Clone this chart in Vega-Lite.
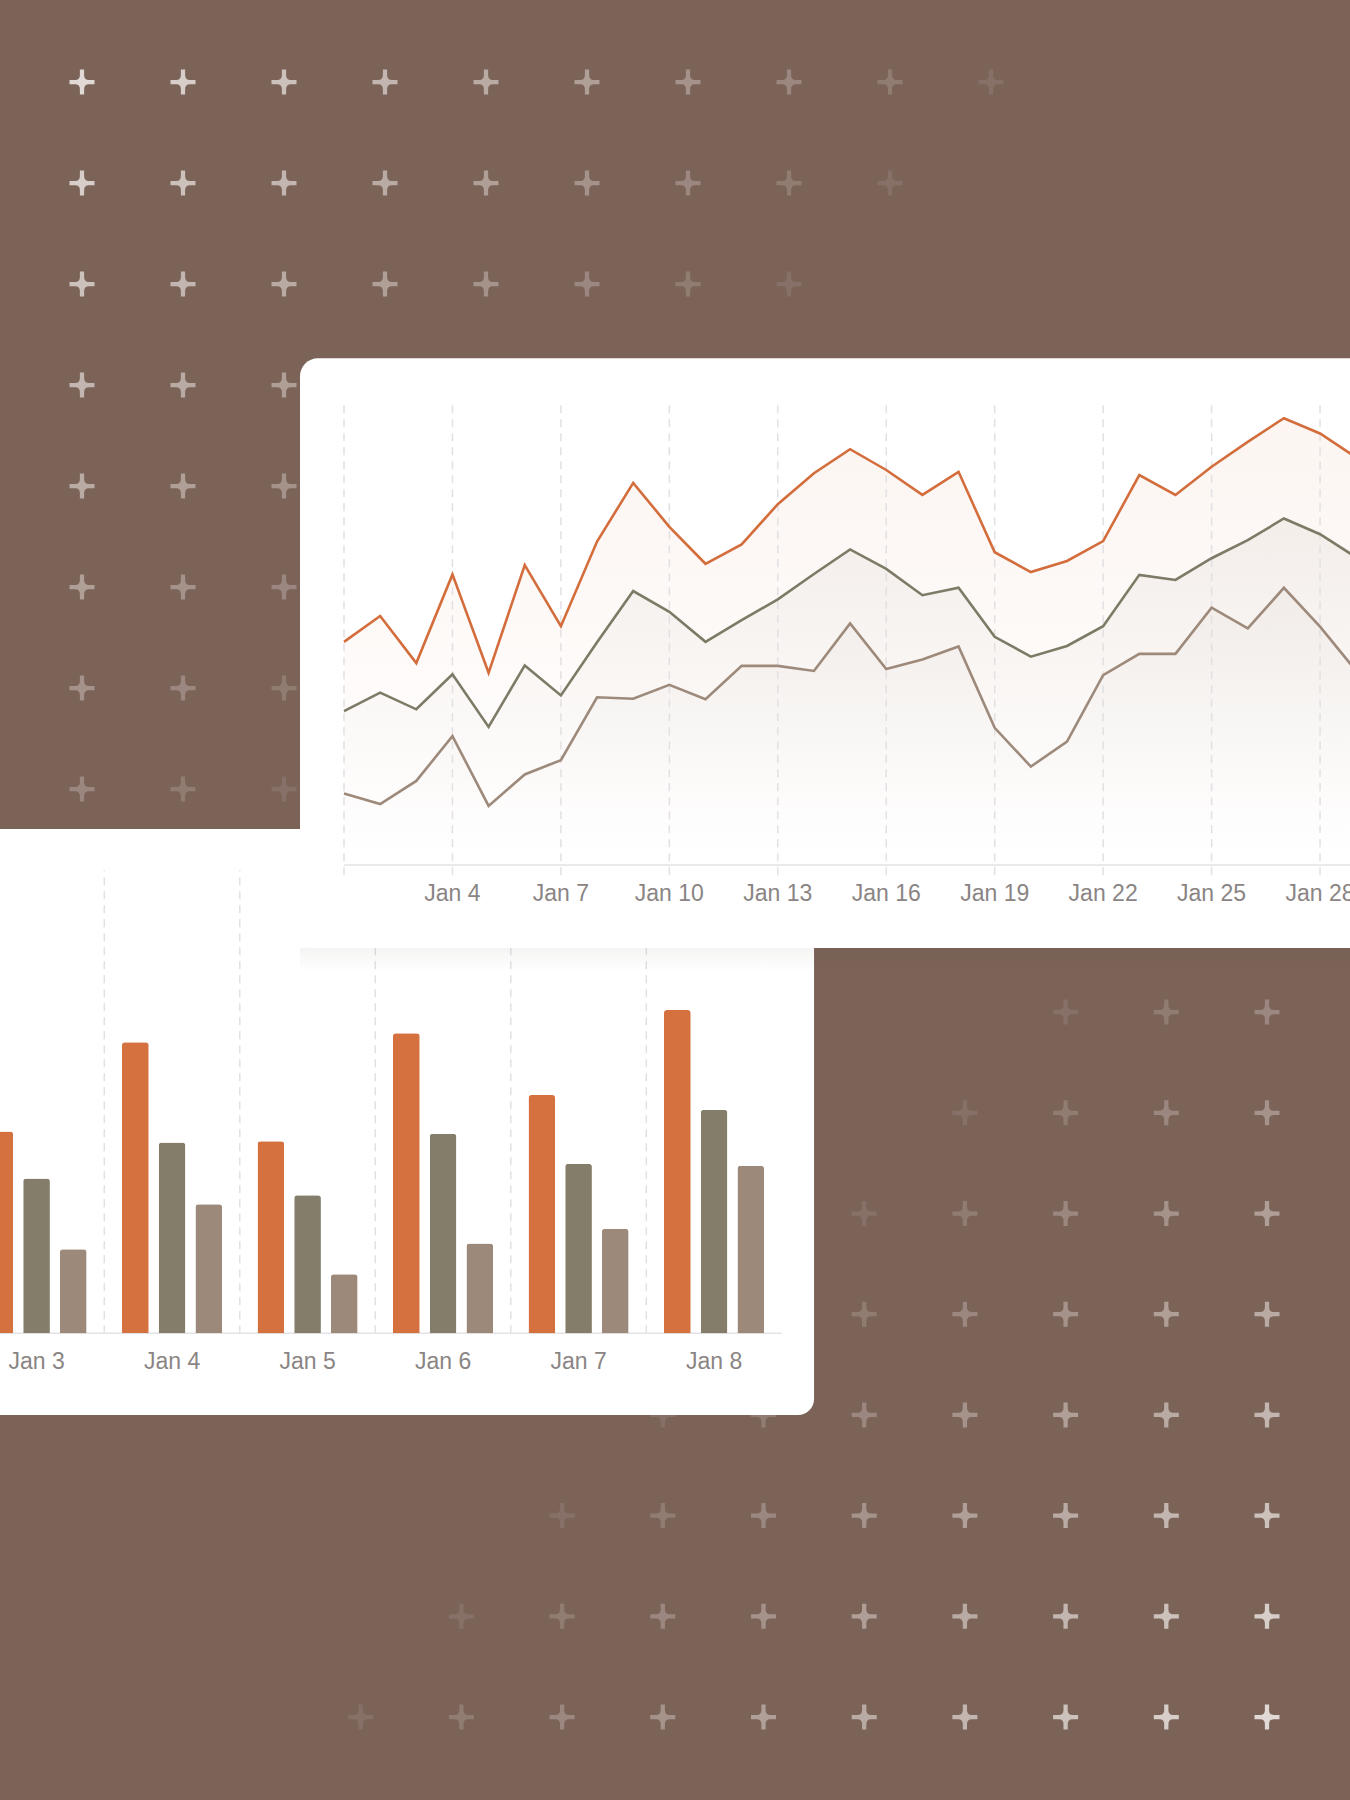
{
  "$schema": "https://vega.github.io/schema/vega-lite/v6.json",
  "width": 1350,
  "height": 1800,
  "autosize": {"type": "none"},
  "padding": 0,
  "background": "#7B6358",
  "config": {"view": {"stroke": null}, "axis": {"disable": true}, "legend": {"disable": true}},
  "datasets": {
    "plusTopLeft": [
      {"col":0,"row":0,"level":0},{"col":1,"row":0,"level":1},{"col":2,"row":0,"level":2},{"col":3,"row":0,"level":3},{"col":4,"row":0,"level":4},{"col":5,"row":0,"level":5},{"col":6,"row":0,"level":6},{"col":7,"row":0,"level":7},{"col":8,"row":0,"level":8},{"col":9,"row":0,"level":9},
      {"col":0,"row":1,"level":1},{"col":1,"row":1,"level":2},{"col":2,"row":1,"level":3},{"col":3,"row":1,"level":4},{"col":4,"row":1,"level":5},{"col":5,"row":1,"level":6},{"col":6,"row":1,"level":7},{"col":7,"row":1,"level":8},{"col":8,"row":1,"level":9},
      {"col":0,"row":2,"level":2},{"col":1,"row":2,"level":3},{"col":2,"row":2,"level":4},{"col":3,"row":2,"level":5},{"col":4,"row":2,"level":6},{"col":5,"row":2,"level":7},{"col":6,"row":2,"level":8},{"col":7,"row":2,"level":9},
      {"col":0,"row":3,"level":3},{"col":1,"row":3,"level":4},{"col":2,"row":3,"level":5},{"col":3,"row":3,"level":6},{"col":4,"row":3,"level":7},{"col":5,"row":3,"level":8},{"col":6,"row":3,"level":9},
      {"col":0,"row":4,"level":4},{"col":1,"row":4,"level":5},{"col":2,"row":4,"level":6},{"col":3,"row":4,"level":7},{"col":4,"row":4,"level":8},{"col":5,"row":4,"level":9},
      {"col":0,"row":5,"level":5},{"col":1,"row":5,"level":6},{"col":2,"row":5,"level":7},{"col":3,"row":5,"level":8},{"col":4,"row":5,"level":9},
      {"col":0,"row":6,"level":6},{"col":1,"row":6,"level":7},{"col":2,"row":6,"level":8},{"col":3,"row":6,"level":9},
      {"col":0,"row":7,"level":7},{"col":1,"row":7,"level":8},{"col":2,"row":7,"level":9},
      {"col":0,"row":8,"level":8},{"col":1,"row":8,"level":9},
      {"col":0,"row":9,"level":9}
    ],
    "plusBottomRight": [
      {"col":0,"row":0,"level":0},{"col":1,"row":0,"level":1},{"col":2,"row":0,"level":2},{"col":3,"row":0,"level":3},{"col":4,"row":0,"level":4},{"col":5,"row":0,"level":5},{"col":6,"row":0,"level":6},{"col":7,"row":0,"level":7},{"col":8,"row":0,"level":8},{"col":9,"row":0,"level":9},
      {"col":0,"row":1,"level":1},{"col":1,"row":1,"level":2},{"col":2,"row":1,"level":3},{"col":3,"row":1,"level":4},{"col":4,"row":1,"level":5},{"col":5,"row":1,"level":6},{"col":6,"row":1,"level":7},{"col":7,"row":1,"level":8},{"col":8,"row":1,"level":9},
      {"col":0,"row":2,"level":2},{"col":1,"row":2,"level":3},{"col":2,"row":2,"level":4},{"col":3,"row":2,"level":5},{"col":4,"row":2,"level":6},{"col":5,"row":2,"level":7},{"col":6,"row":2,"level":8},{"col":7,"row":2,"level":9},
      {"col":0,"row":3,"level":3},{"col":1,"row":3,"level":4},{"col":2,"row":3,"level":5},{"col":3,"row":3,"level":6},{"col":4,"row":3,"level":7},{"col":5,"row":3,"level":8},{"col":6,"row":3,"level":9},
      {"col":0,"row":4,"level":4},{"col":1,"row":4,"level":5},{"col":2,"row":4,"level":6},{"col":3,"row":4,"level":7},{"col":4,"row":4,"level":8},{"col":5,"row":4,"level":9},
      {"col":0,"row":5,"level":5},{"col":1,"row":5,"level":6},{"col":2,"row":5,"level":7},{"col":3,"row":5,"level":8},{"col":4,"row":5,"level":9},
      {"col":0,"row":6,"level":6},{"col":1,"row":6,"level":7},{"col":2,"row":6,"level":8},{"col":3,"row":6,"level":9},
      {"col":0,"row":7,"level":7},{"col":1,"row":7,"level":8},{"col":2,"row":7,"level":9},
      {"col":0,"row":8,"level":8},{"col":1,"row":8,"level":9},
      {"col":0,"row":9,"level":9}
    ],
    "bars": [
      {"day":"Jan 1","series":"A","value":70},{"day":"Jan 1","series":"B","value":50},{"day":"Jan 1","series":"C","value":35},
      {"day":"Jan 2","series":"A","value":82},{"day":"Jan 2","series":"B","value":58},{"day":"Jan 2","series":"C","value":30},
      {"day":"Jan 3","series":"A","value":62.4},{"day":"Jan 3","series":"B","value":47.9},{"day":"Jan 3","series":"C","value":26.0},
      {"day":"Jan 4","series":"A","value":90.0},{"day":"Jan 4","series":"B","value":59.0},{"day":"Jan 4","series":"C","value":39.9},
      {"day":"Jan 5","series":"A","value":59.4},{"day":"Jan 5","series":"B","value":42.7},{"day":"Jan 5","series":"C","value":18.3},
      {"day":"Jan 6","series":"A","value":92.8},{"day":"Jan 6","series":"B","value":61.7},{"day":"Jan 6","series":"C","value":27.8},
      {"day":"Jan 7","series":"A","value":73.7},{"day":"Jan 7","series":"B","value":52.4},{"day":"Jan 7","series":"C","value":32.3},
      {"day":"Jan 8","series":"A","value":100.0},{"day":"Jan 8","series":"B","value":69.1},{"day":"Jan 8","series":"C","value":51.8}
    ],
    "lines": [
      {"date":"2024-01-01","series":"A","value":48.3},{"date":"2024-01-02","series":"A","value":53.9},{"date":"2024-01-03","series":"A","value":43.7},{"date":"2024-01-04","series":"A","value":62.9},{"date":"2024-01-05","series":"A","value":41.6},{"date":"2024-01-06","series":"A","value":64.9},{"date":"2024-01-07","series":"A","value":51.7},{"date":"2024-01-08","series":"A","value":70.0},{"date":"2024-01-09","series":"A","value":82.7},{"date":"2024-01-10","series":"A","value":73.2},
      {"date":"2024-01-11","series":"A","value":65.2},{"date":"2024-01-12","series":"A","value":69.4},{"date":"2024-01-13","series":"A","value":78.1},{"date":"2024-01-14","series":"A","value":84.8},{"date":"2024-01-15","series":"A","value":90.0},{"date":"2024-01-16","series":"A","value":85.5},{"date":"2024-01-17","series":"A","value":80.1},{"date":"2024-01-18","series":"A","value":85.1},{"date":"2024-01-19","series":"A","value":67.7},{"date":"2024-01-20","series":"A","value":63.4},
      {"date":"2024-01-21","series":"A","value":65.8},{"date":"2024-01-22","series":"A","value":70.1},{"date":"2024-01-23","series":"A","value":84.4},{"date":"2024-01-24","series":"A","value":80.1},{"date":"2024-01-25","series":"A","value":86.2},{"date":"2024-01-26","series":"A","value":91.6},{"date":"2024-01-27","series":"A","value":96.7},{"date":"2024-01-28","series":"A","value":93.4},{"date":"2024-01-29","series":"A","value":88.2},{"date":"2024-01-30","series":"A","value":84.0},
      {"date":"2024-01-01","series":"B","value":33.3},{"date":"2024-01-02","series":"B","value":37.3},{"date":"2024-01-03","series":"B","value":33.7},{"date":"2024-01-04","series":"B","value":41.3},{"date":"2024-01-05","series":"B","value":29.9},{"date":"2024-01-06","series":"B","value":43.2},{"date":"2024-01-07","series":"B","value":36.7},{"date":"2024-01-08","series":"B","value":48.2},{"date":"2024-01-09","series":"B","value":59.3},{"date":"2024-01-10","series":"B","value":54.8},
      {"date":"2024-01-11","series":"B","value":48.3},{"date":"2024-01-12","series":"B","value":53.0},{"date":"2024-01-13","series":"B","value":57.5},{"date":"2024-01-14","series":"B","value":63.0},{"date":"2024-01-15","series":"B","value":68.3},{"date":"2024-01-16","series":"B","value":64.1},{"date":"2024-01-17","series":"B","value":58.4},{"date":"2024-01-18","series":"B","value":60.0},{"date":"2024-01-19","series":"B","value":49.4},{"date":"2024-01-20","series":"B","value":45.1},
      {"date":"2024-01-21","series":"B","value":47.4},{"date":"2024-01-22","series":"B","value":51.7},{"date":"2024-01-23","series":"B","value":62.8},{"date":"2024-01-24","series":"B","value":61.7},{"date":"2024-01-25","series":"B","value":66.4},{"date":"2024-01-26","series":"B","value":70.3},{"date":"2024-01-27","series":"B","value":75.0},{"date":"2024-01-28","series":"B","value":71.6},{"date":"2024-01-29","series":"B","value":66.6},{"date":"2024-01-30","series":"B","value":63.0},
      {"date":"2024-01-01","series":"C","value":15.5},{"date":"2024-01-02","series":"C","value":13.2},{"date":"2024-01-03","series":"C","value":18.2},{"date":"2024-01-04","series":"C","value":27.9},{"date":"2024-01-05","series":"C","value":12.8},{"date":"2024-01-06","series":"C","value":19.6},{"date":"2024-01-07","series":"C","value":22.7},{"date":"2024-01-08","series":"C","value":36.3},{"date":"2024-01-09","series":"C","value":36.0},{"date":"2024-01-10","series":"C","value":39.0},
      {"date":"2024-01-11","series":"C","value":35.9},{"date":"2024-01-12","series":"C","value":43.1},{"date":"2024-01-13","series":"C","value":43.1},{"date":"2024-01-14","series":"C","value":42.0},{"date":"2024-01-15","series":"C","value":52.3},{"date":"2024-01-16","series":"C","value":42.4},{"date":"2024-01-17","series":"C","value":44.5},{"date":"2024-01-18","series":"C","value":47.3},{"date":"2024-01-19","series":"C","value":29.7},{"date":"2024-01-20","series":"C","value":21.3},
      {"date":"2024-01-21","series":"C","value":26.7},{"date":"2024-01-22","series":"C","value":41.1},{"date":"2024-01-23","series":"C","value":45.7},{"date":"2024-01-24","series":"C","value":45.7},{"date":"2024-01-25","series":"C","value":55.7},{"date":"2024-01-26","series":"C","value":51.2},{"date":"2024-01-27","series":"C","value":60.0},{"date":"2024-01-28","series":"C","value":51.6},{"date":"2024-01-29","series":"C","value":42.0},{"date":"2024-01-30","series":"C","value":38.0}
    ]
  },
  "layer": [
    {
      "data": {"name": "plusTopLeft"},
      "mark": {"type": "point", "shape": "M-1,-0.17L-0.55,-0.17Q-0.17,-0.17,-0.17,-0.55L-0.17,-1L0.17,-1L0.17,-0.55Q0.17,-0.17,0.55,-0.17L1,-0.17L1,0.17L0.55,0.17Q0.17,0.17,0.17,0.55L0.17,1L-0.17,1L-0.17,0.55Q-0.17,0.17,-0.55,0.17L-1,0.17Z", "filled": true, "size": 625, "color": "#F3EDEB", "strokeWidth": 0},
      "encoding": {
        "x": {"field": "col", "type": "quantitative", "axis": null, "scale": {"domain": [0, 12], "range": [82, 1294], "nice": false, "zero": false}},
        "y": {"field": "row", "type": "quantitative", "axis": null, "scale": {"domain": [0, 12], "range": [82, 1294], "nice": false, "zero": false}},
        "opacity": {"field": "level", "type": "quantitative", "legend": null, "scale": {"domain": [0, 9], "range": [0.85, 0.1]}}
      }
    },
    {
      "data": {"name": "plusBottomRight"},
      "mark": {"type": "point", "shape": "M-1,-0.17L-0.55,-0.17Q-0.17,-0.17,-0.17,-0.55L-0.17,-1L0.17,-1L0.17,-0.55Q0.17,-0.17,0.55,-0.17L1,-0.17L1,0.17L0.55,0.17Q0.17,0.17,0.17,0.55L0.17,1L-0.17,1L-0.17,0.55Q-0.17,0.17,-0.55,0.17L-1,0.17Z", "filled": true, "size": 625, "color": "#F3EDEB", "strokeWidth": 0},
      "encoding": {
        "x": {"field": "col", "type": "quantitative", "axis": null, "scale": {"domain": [0, 9], "range": [1267, 360.7], "nice": false, "zero": false}},
        "y": {"field": "row", "type": "quantitative", "axis": null, "scale": {"domain": [0, 9], "range": [1717, 810.7], "nice": false, "zero": false}},
        "opacity": {"field": "level", "type": "quantitative", "legend": null, "scale": {"domain": [0, 9], "range": [0.85, 0.1]}}
      }
    },
    {
      "resolve": {"scale": {"x": "independent"}},
      "layer": [
        {
          "data": {"values": [{}]},
          "mark": {"type": "rect", "fill": "#FFFFFF", "cornerRadius": 16},
          "encoding": {
            "x": {"datum": -1, "type": "quantitative", "axis": null, "scale": {"domain": [0, 8], "range": [-302.2, 781.8], "nice": false, "zero": false}},
            "x2": {"datum": 8.238},
            "y": {"datum": 156, "type": "quantitative", "axis": null, "scale": {"domain": [0, 100], "range": [1333.3, 1010], "nice": false, "zero": false}},
            "y2": {"datum": -25.3}
          }
        },
        {
          "data": {"name": "bars"},
          "transform": [{"aggregate": [], "groupby": ["day"]}],
          "mark": {"type": "rule", "color": "#E3E0E3", "strokeWidth": 1.5, "strokeDash": [8, 6]},
          "encoding": {
            "x": {"field": "day", "type": "nominal", "bandPosition": -0.1154, "axis": null, "scale": {"domain": ["Jan 1","Jan 2","Jan 3","Jan 4","Jan 5","Jan 6","Jan 7","Jan 8"], "range": [-302.2, 781.8], "paddingInner": 0.1875, "paddingOuter": 0.09375}},
            "y": {"datum": 0, "type": "quantitative", "axis": null, "scale": {"domain": [0, 100], "range": [1333.3, 1010], "nice": false, "zero": false}},
            "y2": {"datum": 143.3}
          }
        },
        {
          "data": {"values": [{}]},
          "mark": {"type": "rule", "color": "#E4E2E5", "strokeWidth": 1.5},
          "encoding": {
            "x": {"datum": -1, "type": "quantitative", "axis": null, "scale": {"domain": [0, 8], "range": [-302.2, 781.8], "nice": false, "zero": false}},
            "x2": {"datum": 8},
            "y": {"datum": 0, "type": "quantitative", "axis": null, "scale": {"domain": [0, 100], "range": [1333.3, 1010], "nice": false, "zero": false}}
          }
        },
        {
          "layer": [
            {
              "data": {"name": "bars"},
              "mark": {"type": "bar", "cornerRadiusTopLeft": 3, "cornerRadiusTopRight": 3},
              "encoding": {
                "x": {"field": "day", "type": "nominal", "axis": null, "scale": {"domain": ["Jan 1","Jan 2","Jan 3","Jan 4","Jan 5","Jan 6","Jan 7","Jan 8"], "range": [-302.2, 781.8], "paddingInner": 0.1875, "paddingOuter": 0.09375}},
                "xOffset": {"field": "series", "type": "nominal", "scale": {"domain": ["A", "B", "C"], "paddingInner": 0.2725, "paddingOuter": 0.136}},
                "y": {"field": "value", "type": "quantitative", "axis": null, "scale": {"domain": [0, 100], "range": [1333.3, 1010], "nice": false, "zero": false}},
                "color": {"field": "series", "type": "nominal", "legend": null, "scale": {"domain": ["A", "B", "C"], "range": ["#D5703F", "#837D69", "#9C8979"]}}
              }
            },
            {
              "data": {"name": "bars"},
              "transform": [{"aggregate": [], "groupby": ["day"]}, {"filter": "datum.day !== 'Jan 1' && datum.day !== 'Jan 2'"}],
              "mark": {"type": "text", "font": "Liberation Sans", "fontSize": 23, "color": "#8A8584", "baseline": "middle", "align": "center"},
              "encoding": {
                "x": {"field": "day", "type": "nominal", "axis": null, "scale": {"domain": ["Jan 1","Jan 2","Jan 3","Jan 4","Jan 5","Jan 6","Jan 7","Jan 8"], "range": [-302.2, 781.8], "paddingInner": 0.1875, "paddingOuter": 0.09375}},
                "y": {"datum": -8.8, "type": "quantitative", "axis": null, "scale": {"domain": [0, 100], "range": [1333.3, 1010], "nice": false, "zero": false}},
                "text": {"field": "day", "type": "nominal"}
              }
            }
          ]
        }
      ]
    },
    {
      "layer": [
        {
          "data": {"values": [{}]},
          "mark": {"type": "rect", "fill": {"gradient": "linear", "x1": 0, "y1": 0, "x2": 0, "y2": 1, "stops": [{"offset": 0, "color": "rgba(60,40,30,0.05)"}, {"offset": 1, "color": "rgba(60,40,30,0)"}]}},
          "encoding": {
            "x": {"datum": {"year": 2023, "month": 12, "date": 30, "hours": 18, "minutes": 47, "utc": true}, "type": "temporal", "axis": null, "scale": {"type": "utc", "domain": [{"year": 2024, "month": 1, "date": 1, "utc": true}, {"year": 2024, "month": 1, "date": 29, "utc": true}], "range": [344, 1356.2]}},
            "x2": {"datum": {"year": 2024, "month": 2, "date": 5, "utc": true}},
            "y": {"datum": -17.9, "type": "quantitative", "axis": null, "scale": {"domain": [0, 100], "range": [865, 403], "nice": false, "zero": false}},
            "y2": {"datum": -23.0}
          }
        },
        {
          "data": {"values": [{}]},
          "mark": {"type": "rect", "fill": "#FFFFFF", "cornerRadius": 18},
          "encoding": {
            "x": {"datum": {"year": 2023, "month": 12, "date": 30, "hours": 18, "minutes": 47, "utc": true}, "type": "temporal", "axis": null, "scale": {"type": "utc", "domain": [{"year": 2024, "month": 1, "date": 1, "utc": true}, {"year": 2024, "month": 1, "date": 29, "utc": true}], "range": [344, 1356.2]}},
            "x2": {"datum": {"year": 2024, "month": 2, "date": 5, "utc": true}},
            "y": {"datum": 109.7, "type": "quantitative", "axis": null, "scale": {"domain": [0, 100], "range": [865, 403], "nice": false, "zero": false}},
            "y2": {"datum": -17.95}
          }
        },
        {
          "data": {"name": "lines"},
          "transform": [{"filter": "datum.series === 'A'"}],
          "mark": {"type": "area", "fill": {"gradient": "linear", "x1": 0, "y1": 0, "x2": 0, "y2": 1, "stops": [{"offset": 0, "color": "rgba(214,112,63,0.07)"}, {"offset": 1, "color": "rgba(214,112,63,0)"}]}},
          "encoding": {
            "x": {"field": "date", "type": "temporal", "axis": null, "scale": {"type": "utc", "domain": [{"year": 2024, "month": 1, "date": 1, "utc": true}, {"year": 2024, "month": 1, "date": 29, "utc": true}], "range": [344, 1356.2]}},
            "y": {"field": "value", "type": "quantitative", "axis": null, "scale": {"domain": [0, 100], "range": [865, 403], "nice": false, "zero": false}}
          }
        },
        {
          "data": {"name": "lines"},
          "transform": [{"filter": "datum.series === 'B'"}],
          "mark": {"type": "area", "fill": {"gradient": "linear", "x1": 0, "y1": 0, "x2": 0, "y2": 1, "stops": [{"offset": 0, "color": "rgba(120,110,90,0.07)"}, {"offset": 0.85, "color": "rgba(120,110,90,0)"}]}},
          "encoding": {
            "x": {"field": "date", "type": "temporal", "axis": null, "scale": {"type": "utc", "domain": [{"year": 2024, "month": 1, "date": 1, "utc": true}, {"year": 2024, "month": 1, "date": 29, "utc": true}], "range": [344, 1356.2]}},
            "y": {"field": "value", "type": "quantitative", "axis": null, "scale": {"domain": [0, 100], "range": [865, 403], "nice": false, "zero": false}}
          }
        },
        {
          "data": {"name": "lines"},
          "transform": [{"filter": "datum.series === 'C'"}],
          "mark": {"type": "area", "fill": {"gradient": "linear", "x1": 0, "y1": 0, "x2": 0, "y2": 1, "stops": [{"offset": 0, "color": "rgba(150,130,115,0.05)"}, {"offset": 1, "color": "rgba(150,130,115,0)"}]}},
          "encoding": {
            "x": {"field": "date", "type": "temporal", "axis": null, "scale": {"type": "utc", "domain": [{"year": 2024, "month": 1, "date": 1, "utc": true}, {"year": 2024, "month": 1, "date": 29, "utc": true}], "range": [344, 1356.2]}},
            "y": {"field": "value", "type": "quantitative", "axis": null, "scale": {"domain": [0, 100], "range": [865, 403], "nice": false, "zero": false}}
          }
        },
        {
          "data": {"name": "lines"},
          "transform": [{"filter": "datum.series === 'A' && utcdate(datum.date) % 3 === 1"}],
          "mark": {"type": "rule", "color": "#E3E0E3", "strokeWidth": 1.5, "strokeDash": [8, 6]},
          "encoding": {
            "x": {"field": "date", "type": "temporal", "axis": null, "scale": {"type": "utc", "domain": [{"year": 2024, "month": 1, "date": 1, "utc": true}, {"year": 2024, "month": 1, "date": 29, "utc": true}], "range": [344, 1356.2]}},
            "y": {"datum": -2.2, "type": "quantitative", "axis": null, "scale": {"domain": [0, 100], "range": [865, 403], "nice": false, "zero": false}},
            "y2": {"datum": 100}
          }
        },
        {
          "data": {"values": [{}]},
          "mark": {"type": "rule", "color": "#E4E2E5", "strokeWidth": 1.5},
          "encoding": {
            "x": {"datum": {"year": 2024, "month": 1, "date": 1, "utc": true}, "type": "temporal", "axis": null, "scale": {"type": "utc", "domain": [{"year": 2024, "month": 1, "date": 1, "utc": true}, {"year": 2024, "month": 1, "date": 29, "utc": true}], "range": [344, 1356.2]}},
            "x2": {"datum": {"year": 2024, "month": 2, "date": 5, "utc": true}},
            "y": {"datum": 0, "type": "quantitative", "axis": null, "scale": {"domain": [0, 100], "range": [865, 403], "nice": false, "zero": false}}
          }
        },
        {
          "data": {"name": "lines"},
          "mark": {"type": "line", "strokeWidth": 2.6},
          "encoding": {
            "x": {"field": "date", "type": "temporal", "axis": null, "scale": {"type": "utc", "domain": [{"year": 2024, "month": 1, "date": 1, "utc": true}, {"year": 2024, "month": 1, "date": 29, "utc": true}], "range": [344, 1356.2]}},
            "y": {"field": "value", "type": "quantitative", "axis": null, "scale": {"domain": [0, 100], "range": [865, 403], "nice": false, "zero": false}},
            "color": {"field": "series", "type": "nominal", "legend": null, "scale": {"domain": ["A", "B", "C"], "range": ["#D46D3C", "#7D7A66", "#9E8A7B"]}}
          }
        },
        {
          "data": {"name": "lines"},
          "transform": [{"filter": "datum.series === 'A' && utcdate(datum.date) % 3 === 1 && utcdate(datum.date) > 1 && utcdate(datum.date) < 29"}],
          "mark": {"type": "text", "font": "Liberation Sans", "fontSize": 23, "color": "#8A8584", "baseline": "middle", "align": "center"},
          "encoding": {
            "x": {"field": "date", "type": "temporal", "axis": null, "scale": {"type": "utc", "domain": [{"year": 2024, "month": 1, "date": 1, "utc": true}, {"year": 2024, "month": 1, "date": 29, "utc": true}], "range": [344, 1356.2]}},
            "y": {"datum": -6.2, "type": "quantitative", "axis": null, "scale": {"domain": [0, 100], "range": [865, 403], "nice": false, "zero": false}},
            "text": {"field": "date", "type": "temporal", "timeUnit": "utcmonthdate", "format": "%b %-d"}
          }
        }
      ]
    }
  ],
  "resolve": {"scale": {"x": "independent", "y": "independent", "opacity": "independent", "color": "independent"}}
}
